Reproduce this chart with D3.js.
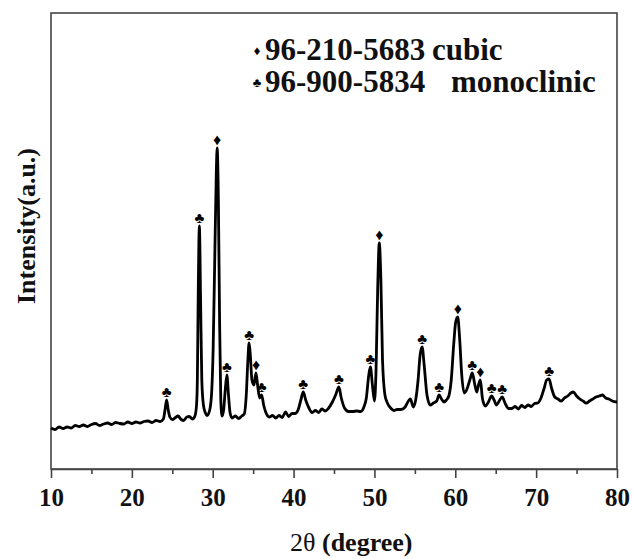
<!DOCTYPE html>
<html>
<head>
<meta charset="utf-8">
<script src="https://cdn.jsdelivr.net/npm/d3@7"></script>
<style>
  body { margin: 0; background: #fff; }
  svg text { font-family: "Liberation Serif", "Times New Roman", serif; }
</style>
</head>
<body>
<div id="chart"></div>
<script>
let w = 633
let h = 559
let margin = {left: 51, right: 16, top: 13, bottom: 90}

// XRD pattern: 2theta (degree) and intensity (a.u.)
let twoTheta = [
  10.0, 10.5, 11.0, 11.5, 12.0, 12.5, 13.0, 13.5, 14.0, 14.5, 15.0, 15.5, 16.0, 16.5, 17.0, 17.5,
  18.0, 18.5, 19.0, 19.5, 20.0, 20.5, 21.0, 21.5, 22.0, 22.5, 23.0, 23.5, 23.9, 24.1, 24.3, 24.5,
  24.7, 25.0, 25.4, 25.7, 26.1, 26.4, 26.8, 27.1, 27.5, 27.8, 28.0, 28.1, 28.2, 28.35, 28.5, 28.65,
  28.85, 29.1, 29.3, 29.6, 29.85, 30.05, 30.25, 30.45, 30.55, 30.7, 30.85, 31.0, 31.15, 31.35, 31.55, 31.75,
  31.95, 32.15, 32.4, 32.8, 33.2, 33.6, 33.9, 34.15, 34.35, 34.5, 34.65, 34.85, 35.1, 35.35, 35.55, 35.8,
  36.05, 36.3, 36.55, 37.0, 37.4, 37.8, 38.2, 38.6, 39.0, 39.4, 39.8, 40.2, 40.6, 40.9, 41.2, 41.5,
  41.9, 42.3, 42.7, 43.1, 43.5, 43.9, 44.3, 44.8, 45.2, 45.6, 45.9, 46.3, 46.8, 47.3, 47.8, 48.3,
  48.7, 49.0, 49.3, 49.5, 49.75, 50.0, 50.2, 50.4, 50.6, 50.8, 51.0, 51.3, 51.6, 52.0, 52.4, 52.8,
  53.3, 53.8, 54.2, 54.45, 54.8, 55.1, 55.4, 55.65, 55.9, 56.15, 56.5, 56.9, 57.3, 57.7, 58.0, 58.3,
  58.6, 58.9, 59.2, 59.5, 59.8, 60.05, 60.3, 60.55, 60.8, 61.1, 61.4, 61.8, 62.1, 62.4, 62.65, 62.9,
  63.1, 63.35, 63.7, 64.1, 64.5, 64.8, 65.1, 65.5, 65.8, 66.2, 66.6, 67.0, 67.4, 67.8, 68.2, 68.6,
  69.0, 69.4, 69.8, 70.2, 70.6, 71.0, 71.3, 71.6, 71.9, 72.3, 72.7, 73.1, 73.5, 73.9, 74.3, 74.6,
  75.0, 75.4, 75.8, 76.2, 76.6, 77.0, 77.4, 77.8, 78.2, 78.6, 79.0, 79.4, 80.0
]
let intensity = [
  39, 37.5, 40, 38.5, 40, 39, 41.5, 40.5, 42, 40.5, 42.5, 43.5, 41.5, 43, 44, 42.5,
  44.5, 43.5, 43, 45, 43.5, 45, 44, 45.5, 46, 44.5, 46.5, 45.5, 48, 57, 67, 57,
  50, 47.5, 49.5, 51, 47.5, 46.5, 50, 50.5, 48, 51, 62, 87, 167, 241, 167, 87,
  62, 54, 51.5, 56, 72, 117, 207, 297, 319, 267, 147, 67, 51, 57, 77, 92,
  72, 54, 49, 51, 48.5, 51, 53, 72, 107, 124, 112, 87, 82, 94, 82, 69,
  72, 62, 55, 50, 51.5, 49, 51.5, 49.5, 55, 50.5, 53.5, 53.5, 58, 67, 75, 67,
  59, 54.5, 56.5, 54.5, 58, 56, 58.5, 65, 72, 80, 69, 59, 55.5, 55.5, 56, 55.5,
  60, 69, 92, 100, 82, 66, 97, 177, 224, 187, 107, 72, 64, 59, 56.5, 57.5,
  57.5, 60, 66, 68, 60, 67, 87, 112, 120, 102, 72, 62, 64, 66, 72, 68,
  65, 67, 71, 87, 122, 145, 150, 127, 92, 74, 77, 87, 94, 83, 75, 83,
  87, 69, 61, 65, 71, 67, 62, 67, 70, 63, 58.5, 58.5, 60.5, 58, 61.5, 59.5,
  62, 60.5, 63.5, 64, 69, 79, 87, 88, 79, 70, 68, 66, 69, 71, 74, 75,
  71, 68, 66, 64, 66, 68, 70, 71, 72, 69, 68, 66, 65
]

// reflections assigned to each reference card
let cubicPeaks = [30.55, 35.35, 50.6, 60.3, 63.1]
let monoclinicPeaks = [24.3, 28.35, 31.75, 34.5, 36.05, 41.2, 45.6, 49.5, 55.9, 58.0, 62.1, 64.5, 65.8, 71.6]

let legendCodes = ["96-210-5683", "96-900-5834"]
let legendPhases = ["cubic", "monoclinic"]
let legendGlyphs = ["\u2666", "\u2663"]

let xTicks = [10, 20, 30, 40, 50, 60, 70, 80]
let xMinorTicks = [15, 25, 35, 45, 55, 65, 75]

let dataset = twoTheta.map((t, i) => ({t: t, v: intensity[i]}))

let svg = d3.select("#chart")
  .append("svg")
  .attr("width", w)
  .attr("height", h)

let x = d3.scaleLinear()
  .domain([10, 80])
  .range([margin.left, w - margin.right])

let y = d3.scaleLinear()
  .domain([-2, 454])
  .range([h - margin.bottom, margin.top])

let yMin = y.domain()[0]
let yMax = y.domain()[1]

// frame
svg.append("rect")
  .attr("x", x(10))
  .attr("y", y(yMax))
  .attr("width", x(80) - x(10))
  .attr("height", y(yMin) - y(yMax))
  .attr("fill", "none")
  .attr("stroke", "#444")
  .attr("stroke-width", 1.6)

// minor ticks
svg.append("g")
  .attr("transform", `translate(0,${y(yMin)})`)
  .call(d3.axisBottom(x).tickValues(xMinorTicks).tickSize(5).tickFormat(""))
  .call(g => g.select(".domain").remove())
  .call(g => g.selectAll("line").attr("stroke", "#444").attr("stroke-width", 1.6))

let xAxis = svg.append("g")
  .attr("transform", `translate(0,${y(yMin)})`)
  .call(d3.axisBottom(x).tickValues(xTicks).tickSize(9).tickSizeOuter(0).tickPadding(10).tickFormat(d3.format("d")))

xAxis.select(".domain").attr("stroke", "#444").attr("stroke-width", 1.6)
xAxis.selectAll("line").attr("stroke", "#444").attr("stroke-width", 1.6)
xAxis.selectAll("text")
  .attr("font-family", "Liberation Serif")
  .attr("font-size", 25)
  .attr("font-weight", "bold")
  .attr("fill", "#111")

// axis titles
let xTitle = svg.append("text")
  .attr("x", 290)
  .attr("y", 551)
  .attr("font-size", 26)
  .attr("fill", "#111")
xTitle.append("tspan").text("2\u03b8 ")
xTitle.append("tspan").attr("font-weight", "bold").text("(degree)")

svg.append("text")
  .attr("transform", `translate(35,${226}) rotate(-90)`)
  .attr("text-anchor", "middle")
  .attr("font-size", 26)
  .attr("font-weight", "bold")
  .attr("fill", "#111")
  .text("Intensity(a.u.)")

// pattern
let line = d3.line()
  .x(d => x(d.t))
  .y(d => y(d.v))
  .curve(d3.curveMonotoneX)

svg.append("path")
  .datum(dataset)
  .attr("fill", "none")
  .attr("stroke", "#000")
  .attr("stroke-width", 2.8)
  .attr("stroke-linejoin", "round")
  .attr("d", line)

// peak markers sit just above the local maximum
let peakTop = t => d3.max(dataset.filter(d => Math.abs(d.t - t) <= 0.25), d => d.v)

let markers = [
  {peaks: cubicPeaks, glyph: legendGlyphs[0], size: 16},
  {peaks: monoclinicPeaks, glyph: legendGlyphs[1], size: 15}
]

markers.forEach(m => {
  svg.append("g")
    .selectAll("text")
    .data(m.peaks)
    .join("text")
    .attr("x", d => x(d))
    .attr("y", d => y(peakTop(d)) - 3)
    .attr("text-anchor", "middle")
    .attr("font-family", "DejaVu Sans")
    .attr("font-size", m.size)
    .attr("fill", "#000")
    .text(m.glyph)
})

// legend
let legend = svg.append("g")
  .attr("transform", "translate(257,60)")

let phaseX = [175, 194]

legendCodes.forEach((code, i) => {
  legend.append("text")
    .attr("x", 0)
    .attr("y", i * 32 - 5)
    .attr("text-anchor", "middle")
    .attr("font-family", "DejaVu Sans")
    .attr("font-size", 13)
    .text(legendGlyphs[i])
  legend.append("text")
    .attr("x", 8)
    .attr("y", i * 32)
    .attr("font-size", 31)
    .attr("font-weight", "bold")
    .attr("fill", "#111")
    .text(code)
  legend.append("text")
    .attr("x", phaseX[i])
    .attr("y", i * 32)
    .attr("font-size", 31)
    .attr("font-weight", "bold")
    .attr("fill", "#111")
    .text(legendPhases[i])
})
</script>
</body>
</html>
